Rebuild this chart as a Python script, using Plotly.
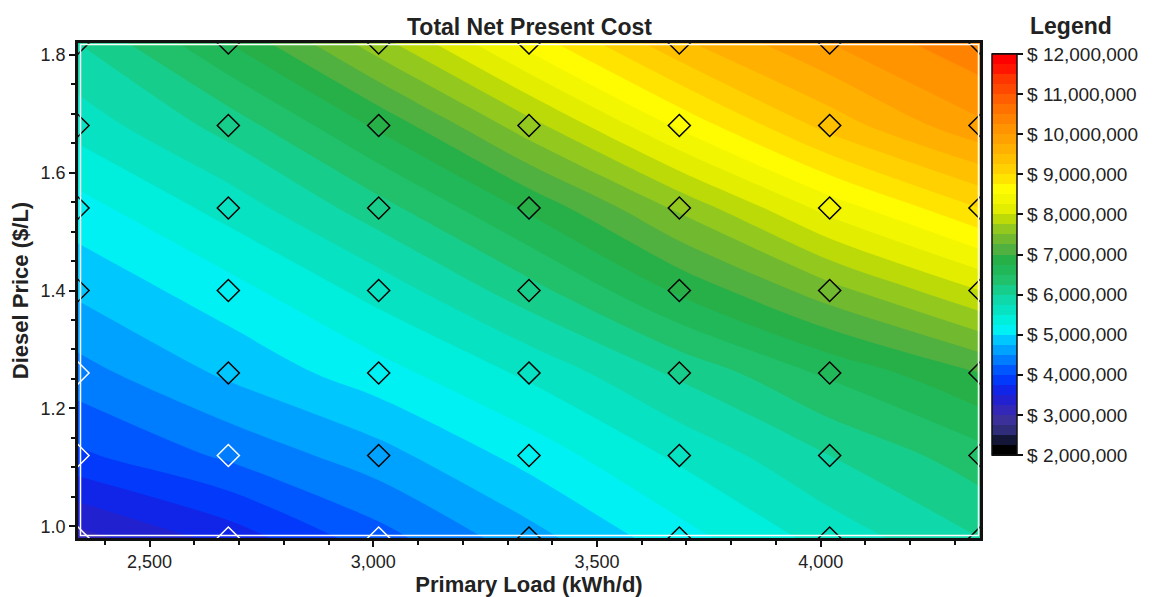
import plotly.graph_objects as go

# Sensitivity grid: primary load (kWh/d) vs diesel price ($/L)
primary_load = [2340, 2676, 3012, 3348, 3684, 4020, 4356]
diesel_price = [0.98, 1.12, 1.26, 1.40, 1.54, 1.68, 1.82]

# Total net present cost in $ million, one row per diesel price
npc_098 = [3.15, 3.60, 4.15, 4.65, 5.15, 5.60, 6.00]
npc_112 = [3.95, 4.30, 4.65, 5.10, 5.55, 6.00, 6.40]
npc_126 = [4.40, 4.80, 5.15, 5.55, 6.05, 6.55, 7.00]
npc_140 = [4.80, 5.15, 5.60, 6.15, 6.80, 7.40, 8.00]
npc_154 = [5.15, 5.60, 6.15, 6.80, 7.55, 8.35, 9.00]
npc_168 = [5.60, 6.10, 6.80, 7.65, 8.55, 9.35, 9.95]
npc_182 = [6.00, 6.75, 7.65, 8.60, 9.45, 10.00, 10.45]

npc_rows = [npc_098, npc_112, npc_126, npc_140, npc_154, npc_168, npc_182]
z = [[v * 1e6 for v in row] for row in npc_rows]

# Legend range and labels
z_start, z_end, z_step = 2e6, 12e6, 250000
legend_ticks = [2e6, 3e6, 4e6, 5e6, 6e6, 7e6, 8e6, 9e6, 10e6, 11e6, 12e6]
legend_text = ["$ {:,.0f}".format(v) for v in legend_ticks]

# Band colours keyed by band-centre value ($M)
band_colors = [
    (1.875, "#000000"), (2.125, "#000000"), (2.375, "#262868"), (2.625, "#363088"),
    (2.875, "#4030a8"), (3.125, "#2a22c0"), (3.375, "#1e20d8"), (3.625, "#0a28f0"),
    (3.875, "#0040ff"), (4.125, "#0060ff"), (4.375, "#0088ff"), (4.625, "#00aaff"),
    (4.875, "#00d0ff"), (5.125, "#00f8f0"), (5.375, "#00ecd8"), (5.625, "#08e0c0"),
    (5.875, "#10d8a8"), (6.125, "#18cc88"), (6.375, "#20c068"), (6.625, "#20b858"),
    (6.875, "#28b048"), (7.125, "#50b040"), (7.375, "#70b830"), (7.625, "#90c820"),
    (7.875, "#b8d808"), (8.125, "#e0ec00"), (8.375, "#f0f400"), (8.625, "#ffff00"),
    (8.875, "#ffe800"), (9.125, "#ffd400"), (9.375, "#ffc400"), (9.625, "#ffb400"),
    (9.875, "#ffa400"), (10.125, "#ff9800"), (10.375, "#ff8800"), (10.625, "#ff7800"),
    (10.875, "#ff6800"), (11.125, "#ff5000"), (11.375, "#ff4000"), (11.625, "#ff2800"),
    (11.875, "#ff0000"), (12.125, "#ff0000"),
]
lo, hi = band_colors[0][0], band_colors[-1][0]
colorscale = [[(v - lo) / (hi - lo), c] for v, c in band_colors]

# Plot-area geometry in pixels
W, H = 1155, 597
L, R, T, B = 78, 175, 43, 59
pw, ph = W - L - R, H - T - B

def px_x(px):
    return (px - L) / pw

def px_y(py):
    return (H - B - py) / ph

font_main = "Liberation Sans, Arial, sans-serif"
ink = "#222"

fig = go.Figure()

fig.add_trace(go.Contour(
    x=primary_load, y=diesel_price, z=z,
    colorscale=colorscale,
    zmin=z_start, zmax=z_end, zauto=False,
    autocontour=False,
    contours=dict(start=z_start, end=z_end, size=z_step, coloring="fill", showlines=False),
    line=dict(width=0, smoothing=1.0),
    colorbar=dict(
        x=px_x(992), xanchor="left", xpad=0,
        y=px_y(54), yanchor="top", ypad=0,
        lenmode="pixels", len=401,
        thickness=25,
        outlinewidth=1.5, outlinecolor="#111",
        tickmode="array", tickvals=legend_ticks, ticktext=legend_text,
        ticks="outside", ticklen=6, tickwidth=2, tickcolor="#111",
        tickfont=dict(family=font_main, size=19, color=ink),
    ),
    hoverinfo="skip",
))

# Sensitivity case markers; dark-blue cells get white outlines
mx, my, mc = [], [], []
for j, price in enumerate(diesel_price):
    for i, load in enumerate(primary_load):
        mx.append(load)
        my.append(price)
        mc.append("white" if npc_rows[j][i] < 4.5 else "black")

fig.add_trace(go.Scatter(
    x=mx, y=my, mode="markers",
    marker=dict(symbol="diamond-open", size=17, color=mc, line=dict(width=1.5)),
    cliponaxis=True, showlegend=False, hoverinfo="skip",
))

# Black separator lines across the legend bar at each labelled value
shapes = []
for v in legend_ticks:
    py = 455 - (v - z_start) / (z_end - z_start) * 401
    shapes.append(dict(type="line", xref="paper", yref="paper",
                       x0=px_x(992), x1=px_x(1017), y0=px_y(py), y1=px_y(py),
                       line=dict(color="#111", width=2)))
# thin white inner frame
shapes.append(dict(type="rect", xref="paper", yref="paper",
                   x0=px_x(80.5), x1=px_x(978.5), y0=px_y(535.5), y1=px_y(44.5),
                   line=dict(color="white", width=1.5), layer="above"))

axis_common = dict(
    showgrid=False, zeroline=False, automargin=False,
    showline=True, linecolor="#111", linewidth=2.5, mirror=True,
    ticks="outside", ticklen=6, tickwidth=1.5, tickcolor="#111",
    tickfont=dict(family=font_main, size=18, color=ink),
)

fig.update_layout(
    width=W, height=H,
    margin=dict(l=L, r=R, t=T, b=B),
    paper_bgcolor="white", plot_bgcolor="white",
    showlegend=False,
    xaxis=dict(
        range=[primary_load[0], primary_load[-1]],
        tickvals=[2500, 3000, 3500, 4000], tickformat=",d",
        minor=dict(dtick=100, tick0=2300, ticks="outside", ticklen=4, tickcolor="#111"),
        title=dict(text="<b>Primary Load (kWh/d)</b>", standoff=6,
                   font=dict(family=font_main, size=22, color=ink)),
        **axis_common,
    ),
    yaxis=dict(
        range=[diesel_price[0], diesel_price[-1]],
        tickvals=[1.0, 1.2, 1.4, 1.6, 1.8], tickformat=".1f",
        minor=dict(dtick=0.05, tick0=1.0, ticks="outside", ticklen=4, tickcolor="#111"),
        title=dict(text="<b>Diesel Price ($/L)</b>", standoff=6,
                   font=dict(family=font_main, size=22, color=ink)),
        **axis_common,
    ),
    shapes=shapes,
    annotations=[
        dict(text="<b>Total Net Present Cost</b>", xref="paper", yref="paper",
             x=0.5, y=px_y(27), xanchor="center", yanchor="middle", showarrow=False,
             font=dict(family=font_main, size=23, color=ink)),
        dict(text="<b>Legend</b>", xref="paper", yref="paper",
             x=px_x(1071), y=px_y(26), xanchor="center", yanchor="middle", showarrow=False,
             font=dict(family=font_main, size=23, color=ink)),
    ],
)

fig.write_html("out.html")
